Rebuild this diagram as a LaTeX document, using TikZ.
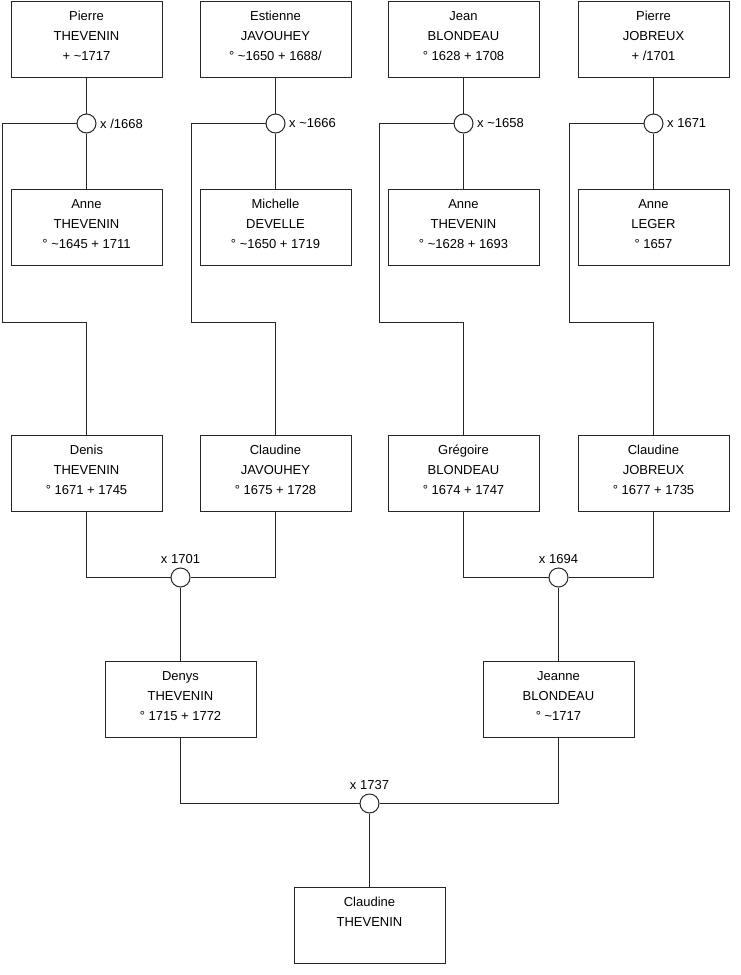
\documentclass[tikz,border=0pt]{standalone}
\usepackage{fontspec}
\setmainfont{Liberation Sans}
\newcommand\mkperson[6]{%
  \node[person] (#1) at (#2,#3) {};
  \node[ptext] (#1t) at ([yshift=-5.5pt]#1.north) {\strut #4\\\strut #5\\\strut #6};
}
\begin{document}
\begin{tikzpicture}[x=1pt,y=-1pt,
  person/.style={draw=black!85, line width=1pt, minimum width=151pt, minimum height=76pt, anchor=north, inner sep=0pt},
  ptext/.style={anchor=north, inner sep=0pt, align=center, font=\fontsize{13}{20}\selectfont},
  union/.style={circle, draw=black!85, line width=1pt, fill=white, minimum size=19pt, inner sep=0pt},
  link/.style={draw=black!85, line width=1pt},
  rlab/.style={anchor=west, inner sep=0pt, font=\fontsize{13}{16}\selectfont, xshift=3.5pt},
  tlab/.style={anchor=base, inner sep=0pt, font=\fontsize{13}{16}\selectfont, yshift=4.5pt}]
\path[fill=white] (0,0) rectangle (740,975);
\useasboundingbox (0,0) rectangle (740,975);

% row 1
\mkperson{a1}{86.5}{0.5}{Pierre}{THEVENIN}{+ \textasciitilde1717}
\mkperson{a2}{275.5}{0.5}{Estienne}{JAVOUHEY}{° \textasciitilde1650 + 1688/}
\mkperson{a3}{463.5}{0.5}{Jean}{BLONDEAU}{° 1628 + 1708}
\mkperson{a4}{653.5}{0.5}{Pierre}{JOBREUX}{+ /1701}
% row 2
\mkperson{b1}{86.5}{189}{Anne}{THEVENIN}{° \textasciitilde1645 + 1711}
\mkperson{b2}{275.5}{189}{Michelle}{DEVELLE}{° \textasciitilde1650 + 1719}
\mkperson{b3}{463.5}{189}{Anne}{THEVENIN}{° \textasciitilde1628 + 1693}
\mkperson{b4}{653.5}{189}{Anne}{LEGER}{° 1657}
% row 3
\mkperson{c1}{86.5}{435}{Denis}{THEVENIN}{° 1671 + 1745}
\mkperson{c2}{275.5}{435}{Claudine}{JAVOUHEY}{° 1675 + 1728}
\mkperson{c3}{463.5}{435}{Grégoire}{BLONDEAU}{° 1674 + 1747}
\mkperson{c4}{653.5}{435}{Claudine}{JOBREUX}{° 1677 + 1735}
% row 4
\mkperson{d1}{180.5}{661}{Denys}{THEVENIN}{° 1715 + 1772}
\mkperson{d2}{558.5}{661}{Jeanne}{BLONDEAU}{° \textasciitilde1717}
% row 5
\mkperson{e1}{369.5}{887}{Claudine}{THEVENIN}{}

% unions, top
\node[union] (u1) at (86.5,123.5) {};
\node[union] (u2) at (275.5,123.5) {};
\node[union] (u3) at (463.5,123.5) {};
\node[union] (u4) at (653.5,123.5) {};
\node[rlab] (lu1) at (u1.east) {x /1668};
\node[rlab] (lu2) at (u2.east) {x \textasciitilde1666};
\node[rlab] (lu3) at (u3.east) {x \textasciitilde1658};
\node[rlab] (lu4) at (u4.east) {x 1671};

\foreach \i in {1,2,3,4}{
  \draw[link] (a\i) -- (u\i);
  \draw[link] (u\i) -- (b\i);
}
\draw[link] (u1.west) -| (2,322) -| (c1.north);
\draw[link] (u2.west) -| (191,322) -| (c2.north);
\draw[link] (u3.west) -| (379,322) -| (c3.north);
\draw[link] (u4.west) -| (569,322) -| (c4.north);

% unions, middle
\node[union] (v1) at (180.5,577.5) {};
\node[union] (v2) at (558.5,577.5) {};
\node[tlab] (lv1) at (v1.north) {x 1701};
\node[tlab] (lv2) at (v2.north) {x 1694};
\draw[link] (c1.south) |- (v1.west);
\draw[link] (c2.south) |- (v1.east);
\draw[link] (c3.south) |- (v2.west);
\draw[link] (c4.south) |- (v2.east);
\draw[link] (v1) -- (d1);
\draw[link] (v2) -- (d2);

% union, bottom
\node[union] (w1) at (369.5,803.5) {};
\node[tlab] (lw1) at (w1.north) {x 1737};
\draw[link] (d1.south) |- (w1.west);
\draw[link] (d2.south) |- (w1.east);
\draw[link] (w1) -- (e1);
\end{tikzpicture}
\end{document}
